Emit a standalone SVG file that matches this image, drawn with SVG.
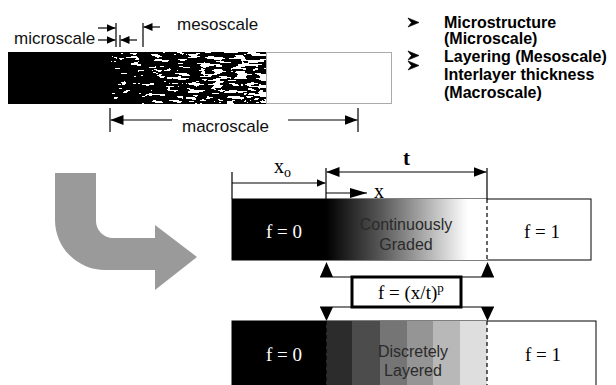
<svg xmlns="http://www.w3.org/2000/svg" width="616" height="385" viewBox="0 0 616 385">
<style>
.ln{stroke:#000;stroke-width:1.2;fill:none}
.lbl{font-family:"Liberation Sans",Arial,sans-serif;font-size:17px;fill:#111}
.bul{font-family:"Liberation Sans",Arial,sans-serif;font-size:16px;font-weight:bold;fill:#000}
.ser{font-family:"Liberation Serif","Times New Roman",serif}
.fw{font-family:"Liberation Serif","Times New Roman",serif;font-size:19px;fill:#fff;text-anchor:middle}
.fb{font-family:"Liberation Serif","Times New Roman",serif;font-size:19px;fill:#000;text-anchor:middle}
.mid{font-family:"Liberation Sans",Arial,sans-serif;font-size:16px;fill:#2a2a2a;text-anchor:middle}
.dash{stroke:#000;stroke-width:1.2;stroke-dasharray:4 3;fill:none}
</style>
<defs>
<marker id="as" markerUnits="userSpaceOnUse" markerWidth="9" markerHeight="8" refX="9" refY="4" orient="auto-start-reverse"><path d="M0,0 L9,4 L0,8 z" fill="#000"/></marker>
<marker id="am" markerUnits="userSpaceOnUse" markerWidth="13" markerHeight="10" refX="13" refY="5" orient="auto-start-reverse"><path d="M0,0 L13,5 L0,10 z" fill="#000"/></marker>
<marker id="ax" markerUnits="userSpaceOnUse" markerWidth="17" markerHeight="10" refX="17" refY="5" orient="auto"><path d="M0,0 L17,5 L0,10 z" fill="#000"/></marker>
<path id="bullet" d="M0,0 L11,4.5 L0,9 L3.5,4.5 Z M0,0 L3.5,4.5" fill="#000" stroke="#000" stroke-width="0.6" stroke-linejoin="round"/>
<linearGradient id="gx" x1="0" y1="0" x2="1" y2="0"><stop offset="0" stop-color="#000"/><stop offset="1" stop-color="#fff"/></linearGradient>
<linearGradient id="gc" gradientUnits="userSpaceOnUse" x1="326" y1="0" x2="487" y2="0"><stop offset="0" stop-color="#000"/><stop offset="0.35" stop-color="#5a5a5a"/><stop offset="0.88" stop-color="#fff"/><stop offset="1" stop-color="#fff"/></linearGradient>
<filter id="tex" x="0" y="0" width="1" height="1" color-interpolation-filters="sRGB">
<feTurbulence type="fractalNoise" baseFrequency="0.085 0.3" numOctaves="3" seed="11" result="n"/>
<feColorMatrix in="n" type="matrix" values="1 0 0 0 0  1 0 0 0 0  1 0 0 0 0  0 0 0 0 1" result="g"/>
<feComposite in="g" in2="SourceGraphic" operator="arithmetic" k1="0" k2="4" k3="0.65" k4="-2.22" result="c"/>
<feComponentTransfer in="c"><feFuncR type="discrete" tableValues="0 1"/><feFuncG type="discrete" tableValues="0 1"/><feFuncB type="discrete" tableValues="0 1"/><feFuncA type="linear" slope="0" intercept="1"/></feComponentTransfer>
</filter>
</defs>

<g id="scale-bar">
<rect x="8" y="52" width="103" height="52" fill="#000"/>
<rect x="111" y="52" width="155" height="52" fill="url(#gx)" filter="url(#tex)"/>
<rect x="266.5" y="52.5" width="125" height="51" fill="none" stroke="#555" stroke-width="1" stroke-dasharray="1 1"/>
</g>

<g id="scale-labels">
<text class="lbl" x="14" y="44">microscale</text>
<text class="lbl" x="177" y="30">mesoscale</text>
<text class="lbl" x="182" y="132">macroscale</text>
</g>

<g id="legend">
<use href="#bullet" x="408" y="18"/>
<use href="#bullet" x="408" y="51"/>
<use href="#bullet" x="408" y="61"/>
<text class="bul" x="444" y="28">Microstructure</text>
<text class="bul" x="444" y="44">(Microscale)</text>
<text class="bul" x="444" y="62">Layering (Mesoscale)</text>
<text class="bul" x="444" y="80">Interlayer thickness</text>
<text class="bul" x="444" y="98">(Macroscale)</text>
</g>

<g id="big-arrow">
<path d="M55,173 L96,173 L96,221 A17 17 0 0 0 113,238 L155,238 L155,225 L197,257 L155,290 L155,270 L105,270 A50 50 0 0 1 55,220 Z" fill="#9a9a9a"/>
</g>

<g id="graded-panel">
<rect x="232" y="199" width="359" height="61" fill="#fff" stroke="#000" stroke-width="1"/>
<rect x="232" y="199" width="94" height="61" fill="#000"/>
<rect x="326" y="199" width="161" height="61" fill="url(#gc)"/>
<line class="dash" x1="487" y1="199" x2="487" y2="260"/>
<text class="fw" x="284" y="238">f = 0</text>
<text class="mid" x="406" y="230">Continuously</text>
<text class="mid" x="406" y="250">Graded</text>
<text class="fb" x="542" y="238">f = 1</text>
</g>

<g id="formula">
<rect x="352" y="277" width="109" height="30" fill="#fff" stroke="#000" stroke-width="3"/>
<text class="ser" x="378" y="299" font-size="19" fill="#000">f = (x/t)<tspan font-size="13" dy="-7">p</tspan></text>
</g>

<g id="layered-panel">
<rect x="232" y="321" width="364" height="70" fill="#fff" stroke="#000" stroke-width="1"/>
<rect x="232" y="321" width="94" height="70" fill="#000"/>
<rect x="326" y="321" width="26" height="70" fill="#2c2c2c"/>
<rect x="352" y="321" width="28" height="70" fill="#4c4c4c"/>
<rect x="380" y="321" width="27" height="70" fill="#757575"/>
<rect x="407" y="321" width="26" height="70" fill="#959595"/>
<rect x="433" y="321" width="27" height="70" fill="#b8b8b8"/>
<rect x="460" y="321" width="27" height="70" fill="#dedede"/>
<line class="dash" x1="326" y1="321" x2="326" y2="385"/>
<line class="dash" x1="487" y1="321" x2="487" y2="385"/>
<text class="fw" x="284" y="361">f = 0</text>
<text class="mid" x="413" y="357">Discretely</text>
<text class="mid" x="413" y="376">Layered</text>
<text class="fb" x="543" y="361">f = 1</text>
</g>

<g id="dimension-labels">
<text class="ser" x="274" y="173" font-size="20" fill="#000">x<tspan font-size="14" dy="4">o</tspan></text>
<text class="ser" x="403" y="165" font-size="21" font-weight="bold" fill="#000">t</text>
<text class="ser" x="374" y="198" font-size="20" fill="#000">x</text>
</g>

<g id="connectors">
<line class="ln" x1="116" y1="23" x2="116" y2="47"/>
<line class="ln" x1="120" y1="35" x2="120" y2="47"/>
<line class="ln" x1="143" y1="23" x2="143" y2="47"/>
<line class="ln" x1="98" y1="28" x2="115.5" y2="28" marker-end="url(#as)"/>
<line class="ln" x1="98" y1="40" x2="115.5" y2="40" marker-end="url(#as)"/>
<line class="ln" x1="137" y1="40" x2="120.5" y2="40" marker-end="url(#as)"/>
<line class="ln" x1="160" y1="27" x2="143.5" y2="27" marker-end="url(#as)"/>
<line class="ln" x1="110" y1="108" x2="110" y2="132"/>
<line class="ln" x1="358" y1="108" x2="358" y2="132"/>
<line class="ln" x1="172" y1="120" x2="110.5" y2="120" marker-end="url(#am)"/>
<line class="ln" x1="288" y1="120" x2="357.5" y2="120" marker-end="url(#am)"/>
<line class="ln" x1="232" y1="172" x2="232" y2="199"/>
<line class="ln" x1="326" y1="168" x2="326" y2="199"/>
<line class="ln" x1="487" y1="168" x2="487" y2="199"/>
<line class="ln" x1="232" y1="183" x2="325.5" y2="183" marker-end="url(#as)"/>
<line class="ln" x1="326.5" y1="172" x2="486.5" y2="172" marker-start="url(#am)" marker-end="url(#am)"/>
<line class="ln" x1="326" y1="193" x2="367" y2="193" marker-end="url(#ax)"/>
<line class="ln" x1="320" y1="277" x2="494" y2="277"/>
<line class="ln" x1="320" y1="307" x2="494" y2="307"/>
<path d="M320,277 L326.5,262 L333,277 Z M481,277 L487.5,262 L494,277 Z" fill="#000"/>
<path d="M320,307 L326.5,321 L333,307 Z M481,307 L487.5,321 L494,307 Z" fill="#000"/>
</g>
</svg>
